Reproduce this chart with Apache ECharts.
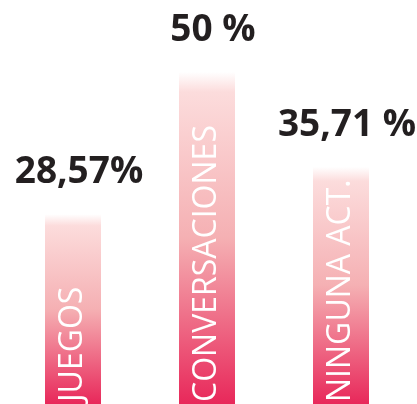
<!DOCTYPE html>
<html>
<head>
<meta charset="utf-8">
<script src="https://cdn.jsdelivr.net/npm/echarts@6/dist/echarts.min.js"></script>
<style>
  html, body { margin: 0; padding: 0; background: #ffffff; }
  #chart { width: 417px; height: 404px; }
</style>
</head>
<body>
<div id="chart"></div>
<script>
// Activity categories and their share (percent)
const categories = ['JUEGOS', 'CONVERSACIONES', 'NINGUNA ACT.'];
const shares = [28.57, 50, 35.71];
const shareLabels = ['28,57%', '50 %', '35,71 %'];

const barGradient = new echarts.graphic.LinearGradient(0, 0, 0, 1, [
  { offset: 0, color: '#ffffff' },
  { offset: 0.06, color: '#fcdcdc' },
  { offset: 0.5, color: '#f5b0b3' },
  { offset: 1, color: '#e8285a' }
]);

const chart = echarts.init(document.getElementById('chart'), null, { renderer: 'canvas' });

chart.setOption({
  animation: false,
  backgroundColor: '#ffffff',
  grid: { left: 6, right: 9, top: 72, bottom: 0, containLabel: false },
  xAxis: {
    type: 'category',
    data: categories,
    axisLine: { show: false },
    axisTick: { show: false },
    axisLabel: { show: false }
  },
  yAxis: {
    type: 'value',
    min: 0,
    max: 50,
    show: false,
    splitLine: { show: false }
  },
  series: [
    {
      type: 'bar',
      data: shares,
      barWidth: 56,
      itemStyle: { color: barGradient },
      label: {
        show: true,
        position: 'top',
        distance: 23,
        offset: [6, 0],
        formatter: (p) => shareLabels[p.dataIndex],
        color: '#231f20',
        fontFamily: 'Open Sans',
        fontWeight: 700,
        fontSize: 37,
        letterSpacing: -1.5
      }
    },
    {
      // overlay carrying the rotated category names inside each bar
      type: 'bar',
      data: shares,
      barWidth: 56,
      barGap: '-100%',
      silent: true,
      itemStyle: { color: 'rgba(0,0,0,0)' },
      label: {
        show: true,
        position: 'insideBottom',
        rotate: 90,
        align: 'left',
        verticalAlign: 'middle',
        distance: 2,
        formatter: '{b}',
        color: '#ffffff',
        fontFamily: 'Open Sans',
        fontWeight: 400,
        fontSize: 32,
        letterSpacing: -0.5
      }
    }
  ]
});
</script>
</body>
</html>
